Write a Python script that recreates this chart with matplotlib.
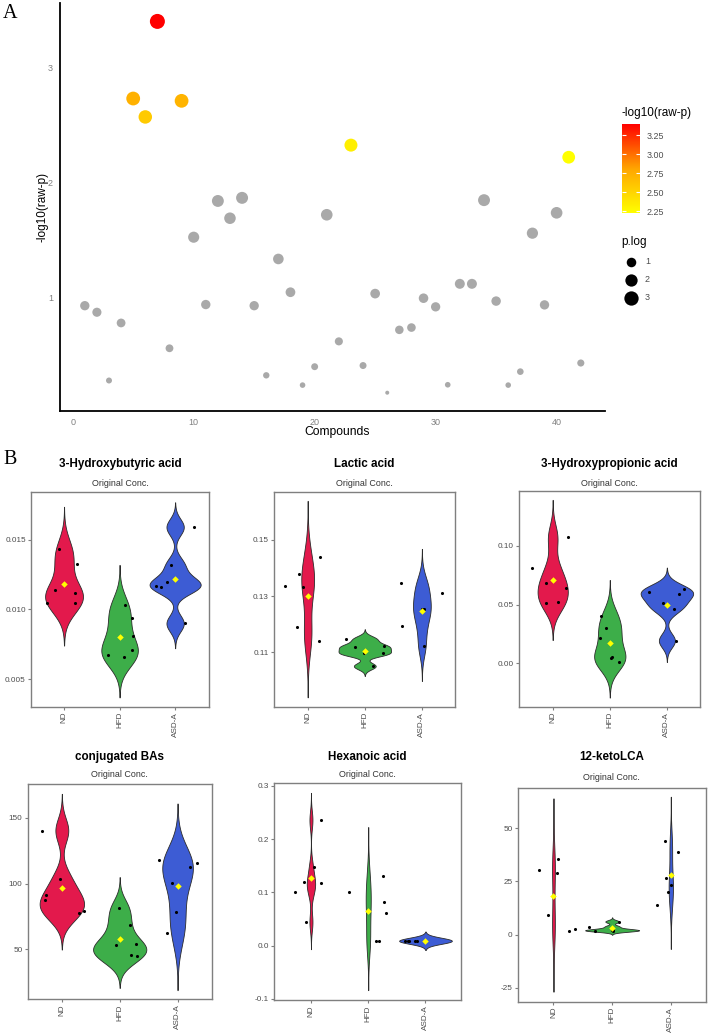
import numpy as np
import matplotlib
matplotlib.use('Agg')
import matplotlib.pyplot as plt
from matplotlib.colors import LinearSegmentedColormap, Normalize
from matplotlib.colorbar import ColorbarBase

plt.rcParams['font.family'] = ['Liberation Sans', 'DejaVu Sans']

# ---------------- data ----------------
compound_index = list(range(1, 43))
p_log = [0.93, 0.873, 0.28, 0.78, 2.73, 2.57, 3.40, 0.56, 2.71, 1.525,
         0.94, 1.84, 1.69, 1.867, 0.93, 0.325, 1.336, 1.047, 0.24, 0.40,
         1.72, 0.62, 2.325, 0.41, 1.035, 0.174, 0.72, 0.74, 0.995, 0.92,
         0.243, 1.12, 1.12, 1.847, 0.97, 0.24, 0.357, 1.56, 0.937, 1.737,
         2.22, 0.432]
size_breaks = [1, 2, 3]
cbar_ticks = [2.25, 2.50, 2.75, 3.00, 3.25]

groups = ['ND', 'HFD', 'ASD-A']
group_colors = ['#E3194C', '#3DAE49', '#3D5CD4']

titles = ['3-Hydroxybutyric acid', 'Lactic acid', '3-Hydroxypropionic acid',
          'conjugated BAs', 'Hexanoic acid', '12-ketoLCA']

hba_values = [[0.01434, 0.01327, 0.01143, 0.01117, 0.01043, 0.01048],
              [0.01031, 0.00938, 0.00811, 0.00711, 0.00671, 0.00659],
              [0.0159, 0.01317, 0.01196, 0.01169, 0.01158, 0.0090]]
hba_jitter = [[-0.09, 0.24, -0.17, 0.19, -0.31, 0.19],
              [0.10, 0.22, 0.25, 0.23, -0.20, 0.08],
              [0.34, -0.08, -0.14, -0.34, -0.26, 0.17]]

lac_values = [[0.13344, 0.13772, 0.13309, 0.11884, 0.14389, 0.11398],
              [0.11469, 0.11172, 0.10958, 0.11220, 0.10958, 0.10507],
              [0.13451, 0.11944, 0.13107, 0.12549, 0.12537, 0.11208]]
lac_jitter = [[-0.40, -0.16, -0.08, -0.18, 0.22, 0.19],
              [-0.33, -0.18, -0.02, 0.34, 0.32, 0.15],
              [-0.36, -0.35, 0.36, 0.03, 0.0, 0.04]]

hpa_values = [[0.08125, 0.10739, 0.06818, 0.06449, 0.05171, 0.05227],
              [0.04063, 0.03011, 0.02131, 0.00511, 0.00455, 0.00114],
              [0.0608, 0.06335, 0.05938, 0.05114, 0.04631, 0.01932]]
hpa_jitter = [[-0.37, 0.26, -0.12, 0.23, -0.12, 0.10],
              [-0.16, -0.06, -0.18, 0.04, 0.02, 0.16],
              [-0.32, 0.30, 0.22, -0.06, 0.13, 0.16]]

cba_values = [[140.26, 103.8, 91.14, 87.09, 77.72, 78.73],
              [81.01, 68.1, 53.41, 53.66, 45.56, 44.55],
              [117.72, 112.41, 115.95, 100.25, 78.22, 62.02]]
cba_jitter = [[-0.35, -0.04, -0.28, -0.29, 0.29, 0.39],
              [-0.01, 0.17, -0.06, 0.28, 0.19, 0.30],
              [-0.32, 0.22, 0.34, -0.10, -0.03, -0.18]]

hex_values = [[0.236, 0.1477, 0.1196, 0.1171, 0.1002, 0.0444],
              [0.1008, 0.1302, 0.0826, 0.062, 0.0092, 0.0092],
              [0.0092, 0.0092, 0.0092, 0.0092, 0.0092, 0.0092]]
hex_jitter = [[0.17, 0.05, -0.12, 0.18, -0.28, -0.09],
              [-0.33, 0.25, 0.28, 0.31, 0.13, 0.19],
              [-0.35, -0.31, -0.28, -0.19, -0.15, 0.0]]

keto_values = [[30.44, 35.46, 28.87, 9.26, 1.73, 2.67],
               [3.77, 1.88, 6.12, 1.88, 2.1, 2.1],
               [44.09, 38.75, 26.52, 23.54, 20.08, 13.96]]
keto_jitter = [[-0.25, 0.07, 0.06, -0.09, 0.26, 0.36],
               [-0.40, -0.30, 0.11, 0.01, 0.02, -0.01],
               [-0.10, 0.12, -0.09, 0.01, -0.04, -0.24]]

yticks_list = [[0.005, 0.010, 0.015], [0.11, 0.13, 0.15], [0.00, 0.05, 0.10],
               [50, 100, 150], [-0.1, 0.0, 0.1, 0.2, 0.3], [-25, 0, 25, 50]]
ytick_fmt = ['{:.3f}', '{:.2f}', '{:.2f}', '{:.0f}', '{:.1f}', '{:.0f}']

# ---------------- layout helpers ----------------
W, H = 709, 1033
DPI = 100
fig = plt.figure(figsize=(W / DPI, H / DPI), dpi=DPI)
PT = 72.0 / DPI  # points per pixel


def rect(x0, y0, x1, y1):
    return [x0 / W, 1 - y1 / H, (x1 - x0) / W, (y1 - y0) / H]


# ---------------- panel A ----------------
axA = fig.add_axes(rect(60, 3, 605, 411))
cmap = LinearSegmentedColormap.from_list('yr', [(0, '#FFFF00'), (0.5, '#FFA500'), (1, '#FF0000')])
pl = np.array(p_log)
sig = pl > 2
norm = Normalize(vmin=pl[sig].min(), vmax=pl[sig].max())
vmin_all, vmax_all = pl.min(), pl.max()


def diam(v):
    return 4 + 11 * np.sqrt((np.asarray(v) - vmin_all) / (vmax_all - vmin_all))


sizes = (diam(pl) * PT) ** 2
xs = np.array(compound_index)
axA.scatter(xs[~sig], pl[~sig], s=sizes[~sig], c='#A9A9A9', linewidths=0, zorder=2)
axA.scatter(xs[sig], pl[sig], s=sizes[sig], c=cmap(norm(pl[sig])), linewidths=0, zorder=3)
axA.set_xlim(-1.05, 44.0)
axA.set_ylim(0.015, 3.56)
axA.set_xticks([0, 10, 20, 30, 40])
axA.set_yticks([1, 2, 3])
for s in ['top', 'right']:
    axA.spines[s].set_visible(False)
for s in ['left', 'bottom']:
    axA.spines[s].set_linewidth(1.3)
    axA.spines[s].set_color('black')
axA.tick_params(length=0, labelsize=6.5, labelcolor='#808080', pad=5)
axA.set_xlabel('Compounds', fontsize=8.7, color='black')
axA.set_ylabel('-log10(raw-p)', fontsize=8.5, color='black')
axA.xaxis.set_label_coords(0.508, -0.036)
axA.yaxis.set_label_coords(-0.022, 0.5)

# colorbar
cax = fig.add_axes(rect(621.7, 124, 640, 213.3))
cb = ColorbarBase(cax, cmap=cmap, norm=norm, orientation='vertical')
cb.outline.set_visible(False)
cb.set_ticks(cbar_ticks)
cb.set_ticklabels(['{:.2f}'.format(t) for t in cbar_ticks])
cax.tick_params(direction='in', length=3, color='white', width=0.8, left=True, right=True,
                labelsize=6.4, labelcolor='#4D4D4D', pad=5)
fig.text(621.7 / W, 1 - 113 / H, '-log10(raw-p)', fontsize=8.5, ha='left', va='center')

# size legend
fig.text(621.7 / W, 1 - 242 / H, 'p.log', fontsize=8.5, ha='left', va='center')
lax = fig.add_axes([0, 0, 1, 1], facecolor='none')
lax.set_xlim(0, W)
lax.set_ylim(H, 0)
lax.axis('off')
for b, yy in zip(size_breaks, [262, 280, 298]):
    lax.scatter([631], [yy], s=(diam(b) * PT) ** 2, c='black', linewidths=0)
    lax.text(645, yy, str(b), fontsize=6.4, color='#4D4D4D', ha='left', va='center')

fig.text(3 / W, 1 - 4 / H, 'A', fontsize=14.5, family='Liberation Serif', ha='left', va='top')
fig.text(3 / W, 1 - 450 / H, 'B', fontsize=14.5, family='Liberation Serif', ha='left', va='top')

# ---------------- panel B ----------------


def nrd0(x):
    x = np.asarray(x, float)
    hi = np.std(x, ddof=1)
    q75, q25 = np.percentile(x, [75, 25])
    lo = min(hi, (q75 - q25) / 1.34)
    if lo == 0:
        lo = hi or abs(x[0]) or 1.0
    return 0.9 * lo * len(x) ** -0.2


def kde(x):
    x = np.asarray(x, float)
    bw = nrd0(x)
    grid = np.linspace(x.min() - 3 * bw, x.max() + 3 * bw, 512)
    dens = np.exp(-0.5 * ((grid[:, None] - x[None, :]) / bw) ** 2).sum(1) / (len(x) * bw * np.sqrt(2 * np.pi))
    return grid, dens


values_list = [hba_values, lac_values, hpa_values, cba_values, hex_values, keto_values]
jitter_list = [hba_jitter, lac_jitter, hpa_jitter, cba_jitter, hex_jitter, keto_jitter]

rects = [(31, 492.3, 209, 706.7), (274, 491.7, 455, 706.7), (519, 490.7, 700, 706.7),
         (27.7, 784.3, 211.7, 999.3), (274.3, 783.3, 461, 1000), (517.7, 787.7, 706, 1001.7)]
ylims = [(0.00304, 0.01839), (0.0906, 0.1672), (-0.037, 0.1471),
         (12, 175.4), (-0.102, 0.305), (-31.6, 69.1)]
xlims = [(0.405, 3.61), (0.41, 3.58), (0.41, 3.58), (0.41, 3.59), (0.36, 3.62), (0.39, 3.6)]
title_y = [464, 464, 464, 757.3, 757.3, 757.3]
sub_y = [483.3, 483.3, 483.3, 774.5, 774.5, 777.3]

for k in range(6):
    x0, y0, x1, y1 = rects[k]
    ax = fig.add_axes(rect(x0, y0, x1, y1))
    vals = values_list[k]
    jit = jitter_list[k]
    kdes = [kde(v) for v in vals]
    maxd = max(d.max() for _, d in kdes)
    for i, (g, d) in enumerate(kdes):
        pos = i + 1
        half = 0.46 * d / maxd
        ax.fill_betweenx(g, pos - half, pos + half, facecolor=group_colors[i],
                         edgecolor='#2B2B2B', linewidth=0.6, zorder=2)
        ax.scatter(pos + np.array(jit[i]), vals[i], s=5, c='black', linewidths=0, zorder=3)
        ax.scatter([pos], [np.mean(vals[i])], marker='D', s=11, c='#FFFF00', linewidths=0, zorder=4)
    ax.set_xlim(*xlims[k])
    ax.set_ylim(*ylims[k])
    ax.set_xticks([1, 2, 3])
    ax.set_xticklabels(groups, rotation=90)
    ax.set_yticks(yticks_list[k])
    ax.set_yticklabels([ytick_fmt[k].format(t) for t in yticks_list[k]])
    for s in ax.spines.values():
        s.set_color('#7F7F7F')
        s.set_linewidth(1.0)
    ax.tick_params(length=2.2, width=0.8, color='#7F7F7F', labelsize=5.9,
                   labelcolor='#4D4D4D', pad=1.5)
    cx = (x0 + x1) / 2
    fig.text(cx / W, 1 - title_y[k] / H, titles[k], fontsize=8.4, fontweight='bold',
             ha='center', va='center')
    fig.text(cx / W, 1 - sub_y[k] / H, 'Original Conc.', fontsize=6.4, color='#333333',
             ha='center', va='center')

fig.savefig('out.png', dpi=DPI)
